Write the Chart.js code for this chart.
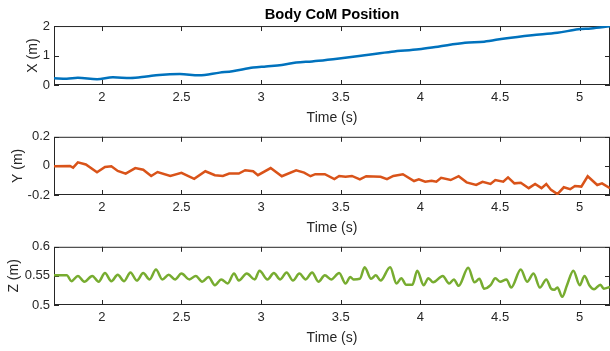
<!DOCTYPE html>
<html>
<head>
<meta charset="utf-8">
<script src="https://cdn.jsdelivr.net/npm/chart.js@4.4.1/dist/chart.umd.min.js"></script>
<style>
  body { margin: 0; background: #fff; }
  .wrap { position: relative; width: 610px; height: 351px; overflow: hidden; }
  canvas { position: absolute; left: 0; }
</style>
</head>
<body>
<div class="wrap">
  <canvas id="chart-x" width="610" height="129" style="top:0"></canvas>
  <canvas id="chart-y" width="610" height="114" style="top:125px"></canvas>
  <canvas id="chart-z" width="610" height="114" style="top:235px"></canvas>
</div>
<script>
// time axis ticks, shared by all 3 plots
const timeTicks = [2, 2.5, 3, 3.5, 4, 4.5, 5];
const xTicks = [0, 1, 2];
const yTicks = [-0.2, 0, 0.2];
const zTicks = [0.5, 0.55, 0.6];

// body CoM X position (m)
const timeX = [1.70, 1.78, 1.85, 1.97, 2.07, 2.18, 2.28, 2.36, 2.49, 2.61, 2.74, 2.82, 2.95, 3.03, 3.13, 3.22, 3.32, 3.36, 3.49, 3.65, 3.82, 3.99, 4.11, 4.28, 4.40, 4.53, 4.70, 4.86, 4.99, 5.07, 5.19];
const posX = [0.23, 0.215, 0.245, 0.195, 0.26, 0.24, 0.29, 0.34, 0.37, 0.33, 0.42, 0.47, 0.59, 0.63, 0.68, 0.76, 0.80, 0.82, 0.90, 1.01, 1.13, 1.21, 1.30, 1.43, 1.47, 1.58, 1.69, 1.77, 1.89, 1.92, 1.99];

// body CoM Y position (m)
const timeY = [1.70, 1.80, 1.82, 1.85, 1.90, 1.97, 2.02, 2.06, 2.10, 2.15, 2.21, 2.26, 2.31, 2.35, 2.43, 2.50, 2.58, 2.65, 2.71, 2.76, 2.80, 2.86, 2.90, 2.95, 2.98, 3.06, 3.13, 3.22, 3.27, 3.31, 3.34, 3.40, 3.46, 3.49, 3.53, 3.57, 3.62, 3.66, 3.75, 3.79, 3.83, 3.89, 3.96, 3.99, 4.03, 4.07, 4.10, 4.13, 4.19, 4.24, 4.29, 4.35, 4.39, 4.44, 4.47, 4.52, 4.55, 4.59, 4.63, 4.68, 4.72, 4.76, 4.79, 4.82, 4.86, 4.90, 4.94, 4.97, 5.01, 5.05, 5.11, 5.14, 5.19];
const posY = [-0.003, 0.0, -0.012, 0.024, 0.01, -0.044, -0.008, -0.003, -0.035, -0.053, -0.015, -0.026, -0.069, -0.042, -0.069, -0.048, -0.089, -0.037, -0.064, -0.069, -0.053, -0.053, -0.030, -0.037, -0.064, -0.015, -0.071, -0.030, -0.046, -0.071, -0.057, -0.057, -0.091, -0.069, -0.075, -0.069, -0.093, -0.071, -0.075, -0.091, -0.069, -0.057, -0.104, -0.093, -0.109, -0.102, -0.109, -0.082, -0.097, -0.071, -0.113, -0.131, -0.109, -0.124, -0.097, -0.109, -0.079, -0.120, -0.116, -0.153, -0.124, -0.153, -0.124, -0.165, -0.194, -0.147, -0.160, -0.138, -0.142, -0.071, -0.131, -0.120, -0.153];

// body CoM Z position (m)
const timeZ = [1.70, 1.78, 1.81, 1.85, 1.89, 1.94, 1.98, 2.02, 2.06, 2.10, 2.14, 2.18, 2.22, 2.26, 2.30, 2.34, 2.38, 2.42, 2.46, 2.50, 2.55, 2.59, 2.63, 2.67, 2.71, 2.75, 2.79, 2.83, 2.86, 2.91, 2.96, 2.99, 3.04, 3.08, 3.12, 3.16, 3.20, 3.24, 3.28, 3.32, 3.36, 3.40, 3.44, 3.49, 3.53, 3.56, 3.58, 3.62, 3.65, 3.69, 3.72, 3.75, 3.81, 3.85, 3.88, 3.91, 3.95, 3.98, 4.02, 4.05, 4.08, 4.14, 4.18, 4.21, 4.24, 4.30, 4.34, 4.37, 4.40, 4.44, 4.47, 4.50, 4.54, 4.57, 4.63, 4.67, 4.71, 4.75, 4.79, 4.82, 4.84, 4.86, 4.89, 4.92, 4.96, 5.00, 5.03, 5.06, 5.09, 5.13, 5.15, 5.19];
const posZ = [0.551, 0.551, 0.541, 0.550, 0.540, 0.550, 0.540, 0.555, 0.541, 0.552, 0.541, 0.556, 0.542, 0.555, 0.544, 0.561, 0.544, 0.552, 0.544, 0.554, 0.544, 0.550, 0.540, 0.548, 0.534, 0.544, 0.537, 0.554, 0.542, 0.554, 0.544, 0.559, 0.544, 0.555, 0.544, 0.556, 0.542, 0.554, 0.544, 0.556, 0.540, 0.551, 0.544, 0.555, 0.537, 0.548, 0.544, 0.545, 0.565, 0.545, 0.551, 0.542, 0.565, 0.537, 0.546, 0.535, 0.535, 0.559, 0.534, 0.546, 0.539, 0.550, 0.537, 0.544, 0.533, 0.564, 0.539, 0.545, 0.528, 0.534, 0.546, 0.540, 0.544, 0.530, 0.561, 0.540, 0.554, 0.530, 0.544, 0.528, 0.526, 0.530, 0.514, 0.534, 0.559, 0.534, 0.550, 0.534, 0.527, 0.535, 0.528, 0.531];

const axisColor = "#262626";
const fontFam = "'Liberation Sans', Arial, Helvetica, sans-serif";
const tickLen = 5;

// matlab style box with the tick marks pointing inside
const boxPlugin = {
  id: "matlabBox",
  beforeDatasetsDraw(chart) {
    const { ctx, chartArea: a, scales } = chart;
    ctx.save();
    ctx.strokeStyle = axisColor;
    ctx.lineWidth = 1;
    ctx.strokeRect(a.left + 0.5, a.top + 0.5, a.right - a.left - 1, a.bottom - a.top - 1);
    ctx.beginPath();
    scales.x.ticks.forEach((t) => {
      const px = Math.round(scales.x.getPixelForValue(t.value)) + 0.5;
      ctx.moveTo(px, a.bottom);
      ctx.lineTo(px, a.bottom - tickLen);
      ctx.moveTo(px, a.top);
      ctx.lineTo(px, a.top + tickLen);
    });
    scales.y.ticks.forEach((t) => {
      const py = Math.round(scales.y.getPixelForValue(t.value)) + 0.5;
      ctx.moveTo(a.left, py);
      ctx.lineTo(a.left + tickLen, py);
      ctx.moveTo(a.right, py);
      ctx.lineTo(a.right - tickLen, py);
    });
    ctx.stroke();
    ctx.restore();
  },
};

const makeChart = (id, times, values, color, ticks, label, labelPad, padTop, showTitle, curve) => {
  const ctx = document.getElementById(id);
  return new Chart(ctx, {
    type: "line",
    data: {
      datasets: [
        {
          data: times.map((t, i) => ({ x: t, y: values[i] })),
          borderColor: color,
          borderWidth: 2.5,
          pointRadius: 0,
          tension: curve ? 0.4 : 0,
          cubicInterpolationMode: curve ? "monotone" : "default",
        },
      ],
    },
    options: {
      responsive: false,
      animation: false,
      events: [],
      layout: { padding: { top: padTop, left: 0, right: 0, bottom: 0 } },
      plugins: {
        legend: { display: false },
        tooltip: { enabled: false },
        title: {
          display: showTitle,
          fullSize: false,
          text: "Body CoM Position",
          color: "#000",
          font: { family: fontFam, size: 14.7, weight: "bold" },
          padding: { top: 6.6, bottom: 1.8 },
        },
      },
      scales: {
        x: {
          type: "linear",
          min: 1.7,
          max: 5.19,
          grid: { display: false, drawTicks: false },
          border: { display: false },
          afterBuildTicks: (s) => { s.ticks = timeTicks.map((v) => ({ value: v })); },
          afterFit: (s) => { s.height = 44; },
          ticks: {
            color: axisColor,
            padding: 5,
            maxRotation: 0,
            autoSkip: false,
            font: { family: fontFam, size: 13 },
            callback: (v) => String(v),
          },
          title: {
            display: true,
            text: "Time (s)",
            color: axisColor,
            font: { family: fontFam, size: 14 },
            padding: { top: 0, bottom: 2 },
          },
        },
        y: {
          min: ticks[0],
          max: ticks[ticks.length - 1],
          grid: { display: false, drawTicks: false },
          border: { display: false },
          afterBuildTicks: (s) => { s.ticks = ticks.map((v) => ({ value: v })); },
          afterFit: (s) => { s.width = 54; },
          ticks: {
            color: axisColor,
            padding: 4,
            font: { family: fontFam, size: 13 },
            callback: (v) => String(v),
          },
          title: {
            display: true,
            text: label,
            color: axisColor,
            font: { family: fontFam, size: 14 },
            padding: { top: labelPad, bottom: 0 },
          },
        },
      },
    },
    plugins: [boxPlugin],
  });
};

makeChart("chart-x", timeX, posX, "#0072BD", xTicks, "X (m)", 24.6, 0, true, true);
makeChart("chart-y", timeY, posY, "#D95319", yTicks, "Y (m)", 9.9, 10, false, false);
makeChart("chart-z", timeZ, posZ, "#77AC30", zTicks, "Z (m)", 5.6, 10, false, true);
</script>
</body>
</html>
